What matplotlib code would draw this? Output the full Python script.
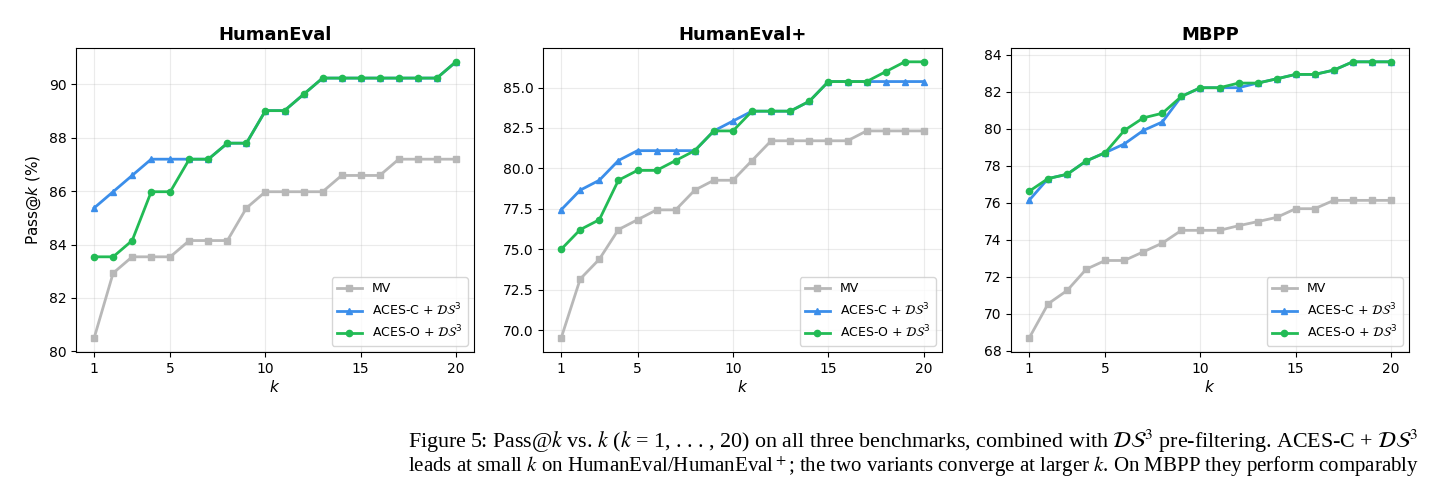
import matplotlib
matplotlib.use("Agg")
import matplotlib.pyplot as plt
import numpy as np

# pass@k for k = 1..20
ks = list(range(1, 21))

he_mv = [80.49, 82.93, 83.54, 83.54, 83.54, 84.15, 84.15, 84.15, 85.37, 85.98,
         85.98, 85.98, 85.98, 86.59, 86.59, 86.59, 87.20, 87.20, 87.20, 87.20]
he_c = [85.37, 85.98, 86.59, 87.20, 87.20, 87.20, 87.20, 87.80, 87.80, 89.02,
        89.02, 89.63, 90.24, 90.24, 90.24, 90.24, 90.24, 90.24, 90.24, 90.85]
he_o = [83.54, 83.54, 84.15, 85.98, 85.98, 87.20, 87.20, 87.80, 87.80, 89.02,
        89.02, 89.63, 90.24, 90.24, 90.24, 90.24, 90.24, 90.24, 90.24, 90.85]

hep_mv = [69.51, 73.17, 74.39, 76.22, 76.83, 77.44, 77.44, 78.66, 79.27, 79.27,
          80.49, 81.71, 81.71, 81.71, 81.71, 81.71, 82.32, 82.32, 82.32, 82.32]
hep_c = [77.44, 78.66, 79.27, 80.49, 81.10, 81.10, 81.10, 81.10, 82.32, 82.93,
         83.54, 83.54, 83.54, 84.15, 85.37, 85.37, 85.37, 85.37, 85.37, 85.37]
hep_o = [75.00, 76.22, 76.83, 79.27, 79.88, 79.88, 80.49, 81.10, 82.32, 82.32,
         83.54, 83.54, 83.54, 84.15, 85.37, 85.37, 85.37, 85.98, 86.59, 86.59]

mbpp_mv = [68.67, 70.53, 71.25, 72.40, 72.87, 72.87, 73.34, 73.81, 74.50, 74.50,
           74.50, 74.75, 74.97, 75.20, 75.67, 75.67, 76.12, 76.12, 76.12, 76.12]
mbpp_c = [76.12, 77.30, 77.53, 78.25, 78.70, 79.17, 79.90, 80.36, 81.74, 82.21,
          82.21, 82.21, 82.46, 82.69, 82.93, 82.93, 83.16, 83.61, 83.61, 83.61]
mbpp_o = [76.61, 77.30, 77.53, 78.25, 78.70, 79.90, 80.58, 80.83, 81.74, 82.21,
          82.21, 82.46, 82.46, 82.69, 82.93, 82.93, 83.16, 83.61, 83.61, 83.61]

titles = ["HumanEval", "HumanEval+", "MBPP"]
panels = [(he_mv, he_c, he_o), (hep_mv, hep_c, hep_o), (mbpp_mv, mbpp_c, mbpp_o)]

W, H = 1434, 478
fig = plt.figure(figsize=(W / 100, H / 100), dpi=100)

# axes boxes in pixels: left, right
boxes = [(76, 474), (543, 942), (1011, 1409)]
top, bottom = 48, 352

for i, ((l, r), title, (mv, c, o)) in enumerate(zip(boxes, titles, panels)):
    ax = fig.add_axes([l / W, (H - bottom) / H, (r - l) / W, (bottom - top) / H])
    ax.plot(ks, mv, color="#b8b8b8", marker="s", lw=2, ms=4.5, label="MV")
    ax.plot(ks, c, color="#3b8eea", marker="^", lw=2, ms=4.5, label=r"ACES-C + $\mathcal{DS}^3$")
    ax.plot(ks, o, color="#22bb55", marker="o", lw=2, ms=4.5, label=r"ACES-O + $\mathcal{DS}^3$")
    ax.set_title(title, fontsize=13, fontweight="bold", pad=6)
    ax.set_xticks([1, 5, 10, 15, 20])
    ax.set_xlabel("$k$", fontsize=11, labelpad=2)
    ax.tick_params(labelsize=10)
    ax.grid(True, alpha=0.25)
    if i == 0:
        ax.set_ylabel("Pass@$k$ (%)", fontsize=11)
    ax.legend(loc="lower right", fontsize=9)

caption1 = (r"Figure 5: Pass@$k$ vs. $k$ ($k$ = 1, . . . , 20) on all three benchmarks, "
            r"combined with $\mathcal{DS}^3$ pre-filtering. ACES-C + $\mathcal{DS}^3$")
caption2 = (r"leads at small $k$ on HumanEval/HumanEval$^+$; the two variants converge at larger $k$. "
            r"On MBPP they perform comparably")
fig.text(408 / W, 1 - 441 / H, caption1, fontsize=15.8, family="Liberation Serif",
         math_fontfamily="stix", ha="left", va="center")
fig.text(408 / W, 1 - 467 / H, caption2, fontsize=15.0, family="Liberation Serif",
         math_fontfamily="stix", ha="left", va="center")

fig.savefig("out.png", dpi=100)
